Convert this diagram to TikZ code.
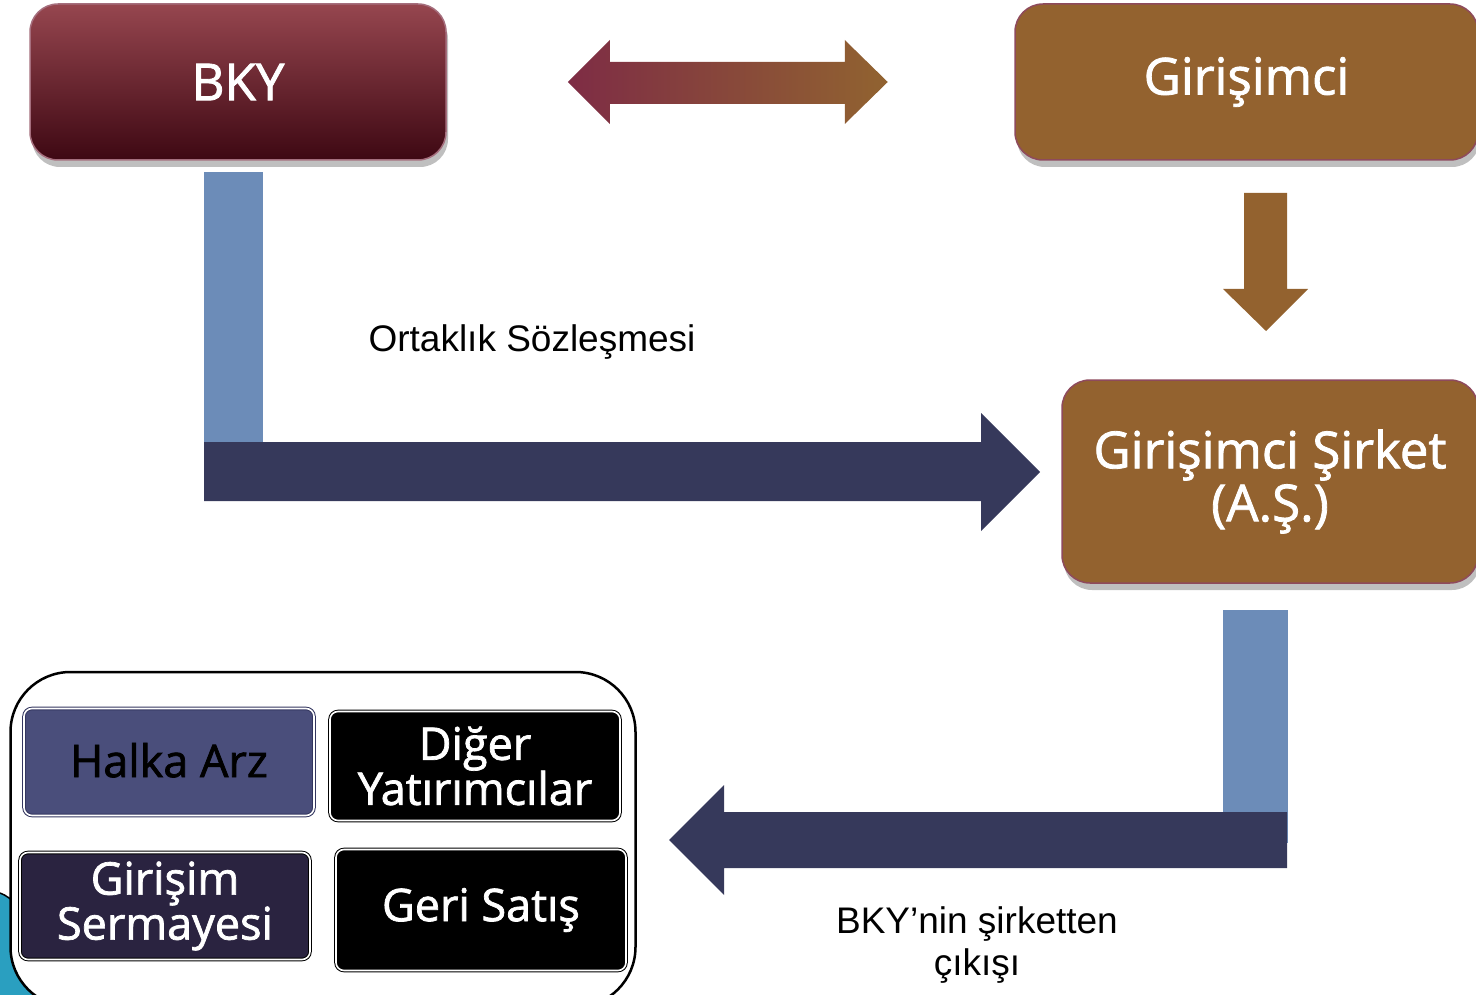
\documentclass[tikz,border=0pt]{standalone}
\usepackage{fontspec}
\setmainfont{Open Sans}
\newfontfamily\boxfont[FakeBold=1.6]{Open Sans}
\newfontfamily\labelfont{Liberation Sans}
\usepackage{xcolor}
\usepackage{tikz}
\usetikzlibrary{positioning,shapes,fit,shadows,backgrounds}

\definecolor{bkytop}{HTML}{96464F}
\definecolor{bkybot}{HTML}{3E0813}
\definecolor{brownbox}{HTML}{93622F}
\definecolor{boxedge}{HTML}{8E4A5C}
\definecolor{barblue}{HTML}{6C8CB8}
\definecolor{navyarrow}{HTML}{36395B}
\definecolor{dblleft}{HTML}{7E2C45}
\definecolor{dblright}{HTML}{916330}
\definecolor{halkablue}{HTML}{4A4E7B}
\definecolor{halkaedge}{HTML}{33365F}
\definecolor{girsempurple}{HTML}{2A2340}
\definecolor{swirlteal}{HTML}{2A9FC0}

\begin{document}
\begin{tikzpicture}[x=1pt, y=-1pt,
	bigbox/.style={draw=boxedge, line width=1.5pt, rounded corners=28pt, text=white, align=center,
		font=\boxfont\fontsize{51}{53}\selectfont,
		drop shadow={shadow xshift=2pt, shadow yshift=-7pt, opacity=.25, fill=black}},
	smallbox/.style={draw=black, double=white, double distance=1.6pt, line width=1pt, rounded corners=8pt,
		minimum width=290pt, minimum height=107pt, align=center, text=white, fill=black,
		font=\boxfont\fontsize{45}{45}\selectfont},
	caption/.style={align=center, font=\labelfont\fontsize{37}{42}\selectfont}]
	\useasboundingbox (0,0) rectangle (1476,995);

	\node(bky)[bigbox, top color=bkytop, bottom color=bkybot, draw=boxedge!80!white, minimum width=416pt, minimum height=156pt] at (238,82) {BKY};
	\node(giri)[bigbox, fill=brownbox, minimum width=463pt, minimum height=156pt] at (1246.5,82) {Girişimci};
	\node(sirket)[bigbox, fill=brownbox, minimum width=416pt, minimum height=203pt] at (1270,481.5) {Girişimci Şirket\\(A.Ş.)};

	\coordinate(tipL) at ([xshift=121pt]bky.east);
	\shade[left color=dblleft, right color=dblright] (tipL) -- ++(42,-42) -- ++(0,22) -- ++(235,0) -- ++(0,-22) -- ++(43,42)
		-- ++(-43,42) -- ++(0,-20) -- ++(-235,0) -- ++(0,20) -- cycle;

	\coordinate(down) at (1266,331);
	\fill[brownbox] (down) -- ++(42,-42) -- ++(-21,0) -- ++(0,-96) -- ++(-43,0) -- ++(0,96) -- ++(-21,0) -- cycle;

	\fill[barblue] ([xshift=-34pt,yshift=-11pt]bky.south) rectangle ++(59,326);
	\coordinate(tip1) at (1040,472);
	\fill[navyarrow] (tip1) -- ++(-59,-59) -- ++(0,29) -- ++(-777,0) -- ++(0,59) -- ++(777,0) -- ++(0,30) -- cycle;
	\node(ortak)[caption] at (532,342) {Ortaklık Sözleşmesi};

	\fill[barblue] (1223,610) rectangle (1288,843);
	\coordinate(tip2) at (669,840);
	\fill[navyarrow] (tip2) -- ++(55,-55) -- ++(0,27) -- ++(563,0) -- ++(0,56) -- ++(-563,0) -- ++(0,27) -- cycle;
	\node(cikis)[caption] at (977,945) {BKY’nin şirketten\\çıkışı};

	\node(halka)[smallbox, fill=halkablue, draw=halkaedge, text=black] at (169,762) {\raisebox{4pt}{Halka Arz}};
	\node(diger)[smallbox, right=15pt of halka, yshift=-4pt, minimum height=109pt] {Diğer\\Yatırımcılar};
	\node(girsem)[smallbox, fill=girsempurple, below=36pt of halka, xshift=-4pt] {Girişim\\Sermayesi};
	\node(geri)[smallbox, below=28pt of diger, xshift=6pt, minimum height=121pt] {Geri Satış};

	\begin{scope}[on background layer]
		\fill[swirlteal] (0,893) .. controls (25,902) and (48,950) .. (58,995) -- (0,995) -- cycle;
		\draw[line width=1.5pt] (0,893) .. controls (25,902) and (48,950) .. (58,995);
		\node(secenek)[fit=(halka)(diger)(girsem)(geri), draw, line width=2.5pt, fill=white, rounded corners=60pt, inner xsep=9pt, inner ysep=36pt] {};
	\end{scope}
\end{tikzpicture}
\end{document}
